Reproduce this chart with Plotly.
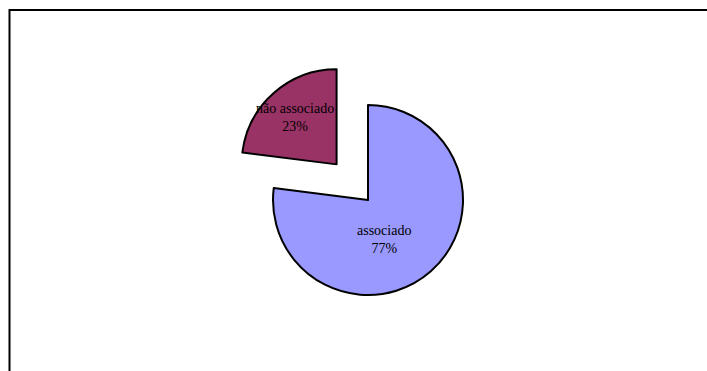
import math
import plotly.graph_objects as go

# Share of respondents by association status
labels = ["associado", "não associado"]
shares = [77, 23]
colors = ["#9999FF", "#993366"]
pulls = [0, 0.5]

W, H = 707, 371

# Pie placement (pixels): domain box centred on (CX, CY)
CX, CY, BOX = 368, 200, 285
dom_x = [(CX - BOX / 2) / W, (CX + BOX / 2) / W]
dom_y = [(H - CY - BOX / 2) / H, (H - CY + BOX / 2) / H]
R = BOX / 2 / (1 + max(pulls))

# Data-label placement: angle offset from each slice bisector (deg) and
# radial distance from the slice's own centre, as a fraction of the radius
label_angle_shift = [19.6, 0.3]
label_radius = [0.45, 0.66]

fig = go.Figure(
    go.Pie(
        labels=labels,
        values=shares,
        sort=False,
        direction="clockwise",
        rotation=0,
        pull=pulls,
        marker=dict(colors=colors, line=dict(color="black", width=2)),
        textinfo="none",
        domain=dict(x=dom_x, y=dom_y),
        showlegend=False,
        hoverinfo="label+percent",
    )
)

# Data labels: "<label>\n<percent>", placed relative to each slice
total = sum(shares)
start = 0.0
for lab, val, pull, shift, frac in zip(labels, shares, pulls, label_angle_shift, label_radius):
    span = 360.0 * val / total
    mid = math.radians(start + span / 2)
    # centre of the (possibly exploded) slice
    sx = CX + pull * R * math.sin(mid)
    sy = CY - pull * R * math.cos(mid)
    ang = math.radians(start + span / 2 + shift)
    px = sx + frac * R * math.sin(ang)
    py = sy - frac * R * math.cos(ang)
    fig.add_annotation(
        x=px / W, y=1 - py / H, xref="paper", yref="paper",
        text=f"{lab}<br>{round(100 * val / total)}%",
        showarrow=False, xanchor="center", yanchor="middle",
        font=dict(family="Liberation Serif", size=14, color="black"),
    )
    start += span

# Chart-area frame (top and left edges visible)
fig.add_shape(
    type="rect", xref="paper", yref="paper",
    x0=9.5 / W, x1=1.02, y0=-0.02, y1=1 - 10 / H,
    line=dict(color="black", width=2), fillcolor="rgba(0,0,0,0)",
)

fig.update_layout(
    width=W, height=H,
    margin=dict(l=0, r=0, t=0, b=0),
    paper_bgcolor="white", plot_bgcolor="white",
)

fig.write_html("out.html")
